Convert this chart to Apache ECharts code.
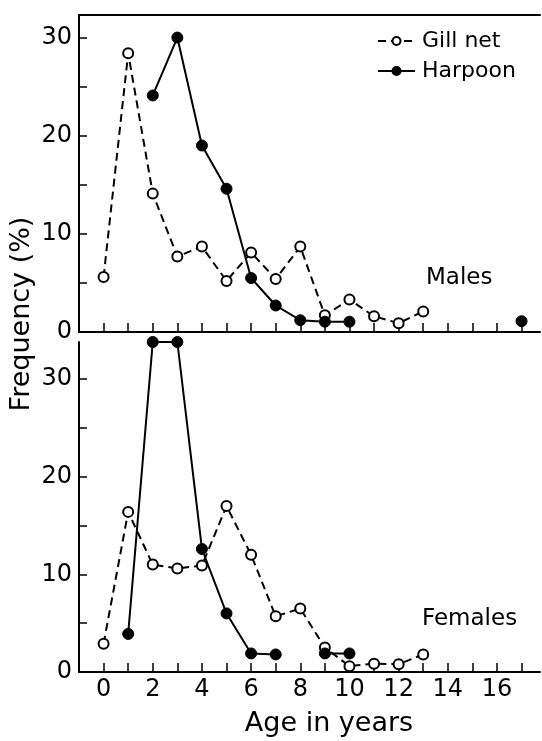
<!DOCTYPE html>
<html>
<head>
<meta charset="utf-8">
<script src="https://cdn.jsdelivr.net/npm/echarts@6/dist/echarts.min.js"></script>
<style>
html,body{margin:0;padding:0;background:#fff;}
#chart{width:542px;height:741px;}
</style>
</head>
<body>
<div id="chart"></div>
<script>
// ---- data ----
var gillAges = [0,1,2,3,4,5,6,7,8,9,10,11,12,13];
var gillMales = [5.6,28.4,14.1,7.7,8.7,5.2,8.1,5.4,8.7,1.7,3.3,1.6,0.9,2.1];
var gillFemales = [2.9,16.4,11.0,10.6,10.9,17.0,12.0,5.7,6.5,2.5,0.6,0.85,0.8,1.8];
var harpMaleAges = [2,3,4,5,6,7,8,9,10,11,12,13,14,15,16,17];
var harpMales = [24.1,30.0,19.0,14.6,5.5,2.7,1.2,1.05,1.05,null,null,null,null,null,null,1.1];
var harpFemaleAges = [1,2,3,4,5,6,7,8,9,10];
var harpFemales = [3.9,33.8,33.8,12.6,6.0,1.9,1.8,null,1.9,1.9];
var xTicks = [0,1,2,3,4,5,6,7,8,9,10,11,12,13,14,15,16,17];
var xLabels = [0,2,4,6,8,10,12,14,16];
var yTicks = [0,5,10,15,20,25,30];
var yLabels = [0,10,20,30];

function pairs(xs, ys){
  return xs.map(function(x,i){ return [x, ys[i] == null ? '-' : ys[i]]; });
}

var FONT = 'DejaVu Sans';
var chart = echarts.init(document.getElementById('chart'));

function xAxisCfg(gridIndex, showLabels){
  return {
    type:'value', gridIndex:gridIndex, min:-1, max:17.75,
    axisLine:{show:true, onZero:false, lineStyle:{color:'#000', width:2}},
    axisTick:{show:true, inside:true, length:9, customValues:xTicks, lineStyle:{color:'#000', width:1.5}},
    axisLabel:{show:showLabels, customValues:xLabels, color:'#000', fontSize:24, fontFamily:FONT, margin:6},
    splitLine:{show:false}
  };
}
function yAxisCfg(gridIndex, max){
  return {
    type:'value', gridIndex:gridIndex, min:0, max:max,
    axisLine:{show:true, onZero:false, lineStyle:{color:'#000', width:2}},
    axisTick:{show:true, inside:true, length:8, customValues:yTicks, lineStyle:{color:'#000', width:1.5}},
    axisLabel:{show:true, customValues:yLabels, color:'#000', fontSize:24, fontFamily:FONT, margin:7},
    splitLine:{show:false}
  };
}

var gillStyle = {
  type:'line', name:'Gill net', symbol:'circle', symbolSize:10,
  itemStyle:{color:'#fff', borderColor:'#000', borderWidth:2},
  lineStyle:{color:'#000', width:2, type:[8,5]},
  connectNulls:false, animation:false, z:2
};
var harpStyle = {
  type:'line', name:'Harpoon', symbol:'circle', symbolSize:11,
  itemStyle:{color:'#000', borderColor:'#000', borderWidth:1},
  lineStyle:{color:'#000', width:2, type:'solid'},
  connectNulls:false, animation:false, z:3
};

var option = {
  backgroundColor:'#fff',
  animation:false,
  grid:[
    {left:79, top:15, width:461, height:317},
    {left:79, top:342, width:461, height:330}
  ],
  xAxis:[
    xAxisCfg(0,false),
    xAxisCfg(1,true),
    {type:'value', gridIndex:0, position:'top', min:-1, max:17.75,
     axisLine:{show:true, onZero:false, lineStyle:{color:'#000', width:2}},
     axisTick:{show:false}, axisLabel:{show:false}, splitLine:{show:false}}
  ],
  yAxis:[ yAxisCfg(0,32.3), yAxisCfg(1,33.8) ],
  legend:{
    orient:'vertical', left:372, top:25, itemWidth:37, itemHeight:10, itemGap:8,
    data:['Gill net','Harpoon'],
    textStyle:{color:'#000', fontSize:22, fontFamily:FONT, padding:[0,0,0,2]}
  },
  series:[
    Object.assign({}, gillStyle, {xAxisIndex:0, yAxisIndex:0, data:pairs(gillAges, gillMales)}),
    Object.assign({}, harpStyle, {xAxisIndex:0, yAxisIndex:0, data:pairs(harpMaleAges, harpMales)}),
    Object.assign({}, gillStyle, {xAxisIndex:1, yAxisIndex:1, data:pairs(gillAges, gillFemales)}),
    Object.assign({}, harpStyle, {xAxisIndex:1, yAxisIndex:1, data:pairs(harpFemaleAges, harpFemales)})
  ],
  graphic:[
    {type:'text', left:426, top:267, style:{text:'Males', fill:'#000', fontSize:23, fontFamily:FONT}},
    {type:'text', left:422, top:608, style:{text:'Females', fill:'#000', fontSize:23, fontFamily:FONT}},
    {type:'text', x:329, y:724, style:{text:'Age in years', fill:'#000', fontSize:27, fontFamily:FONT, align:'center', verticalAlign:'middle'}},
    {type:'text', x:22, y:314, rotation:Math.PI/2, style:{text:'Frequency (%)', fill:'#000', fontSize:27, fontFamily:FONT, align:'center', verticalAlign:'middle'}}
  ]
};
chart.setOption(option);
</script>
</body>
</html>
